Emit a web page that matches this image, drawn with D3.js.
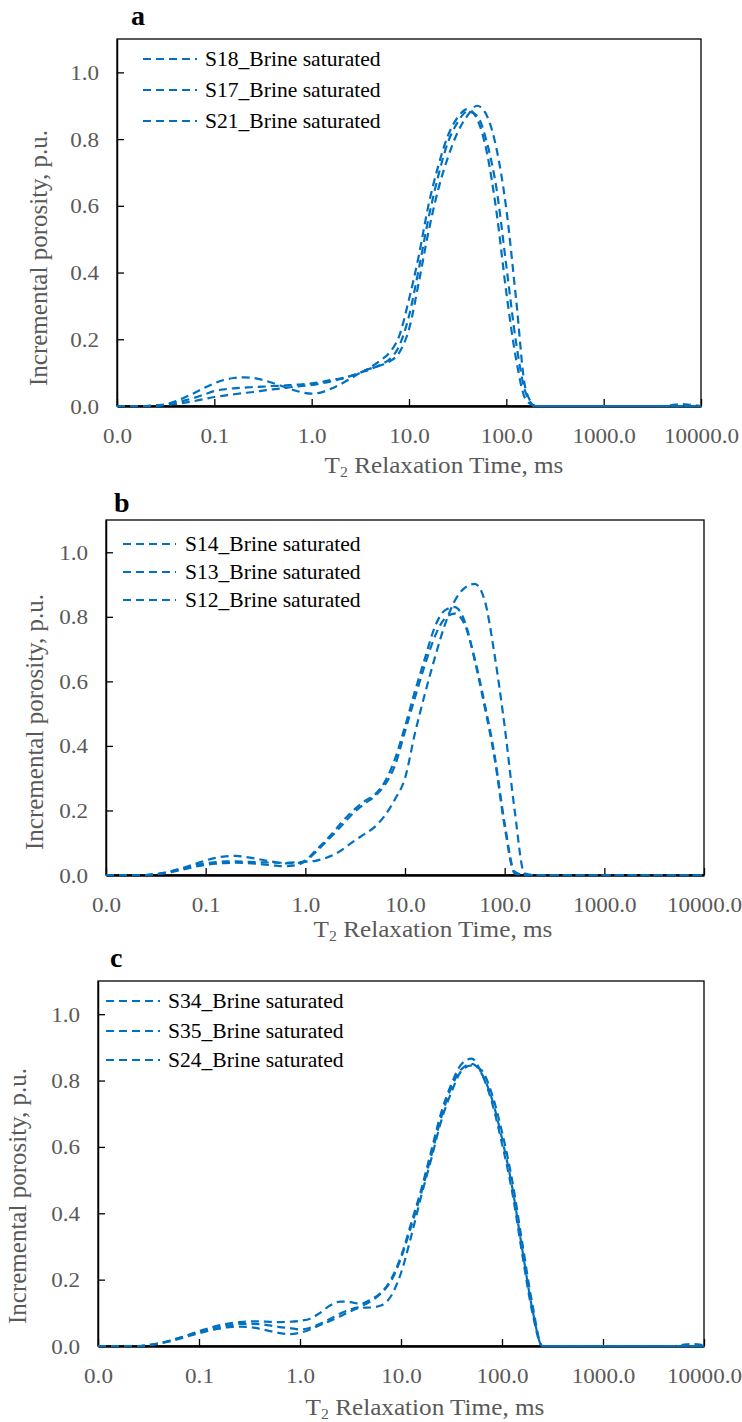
<!DOCTYPE html>
<html>
<head>
<meta charset="utf-8">
<script src="https://cdn.jsdelivr.net/npm/d3@7"></script>
<style>
  body { margin: 0; background: #fff; }
  svg { display: block; }
</style>
</head>
<body>
<svg id="chart" width="742" height="1422"></svg>
<script>
// T2 relaxation time grid (ms), 10 points per decade
var t2 = [
  0.01, 0.0126, 0.0158, 0.02, 0.0251, 0.0316, 0.0398, 0.0501, 0.0631, 0.0794,
  0.1, 0.126, 0.158, 0.2, 0.251, 0.316, 0.398, 0.501, 0.631, 0.794,
  1, 1.26, 1.58, 2, 2.51, 3.16, 3.98, 5.01, 6.31, 7.94,
  10, 12.6, 15.8, 20, 25.1, 31.6, 39.8, 50.1, 63.1, 79.4,
  100, 126, 158, 200, 251, 316, 398, 501, 631, 794,
  1000, 1259, 1585, 1995, 2512, 3162, 3981, 5012, 6310, 7943,
  10000
];

var xTicks = [0.01, 0.1, 1, 10, 100, 1000, 10000];
var yTicks = [0, 0.2, 0.4, 0.6, 0.8, 1.0];

// panel a
var namesA = ["S18_Brine saturated", "S17_Brine saturated", "S21_Brine saturated"];
var s18 = [
  0, 0, 0, 0, 0.001, 0.003, 0.006, 0.01, 0.015, 0.021,
  0.027, 0.031, 0.035, 0.039, 0.042, 0.046, 0.05, 0.053, 0.057, 0.06,
  0.063, 0.068, 0.074, 0.081, 0.09, 0.1, 0.115, 0.135, 0.16, 0.21,
  0.32, 0.45, 0.6, 0.72, 0.81, 0.865, 0.89, 0.86, 0.76, 0.58,
  0.34, 0.14, 0.02, 0, 0, 0, 0, 0, 0, 0,
  0, 0, 0, 0, 0, 0, 0, 0.003, 0.006, 0.003,
  0
];
var s17 = [
  0, 0, 0, 0, 0.001, 0.004, 0.01, 0.017, 0.025, 0.035,
  0.045, 0.05, 0.053, 0.055, 0.057, 0.058, 0.06, 0.061, 0.063, 0.065,
  0.068, 0.072, 0.078, 0.083, 0.09, 0.1, 0.11, 0.123, 0.14, 0.18,
  0.27, 0.41, 0.56, 0.69, 0.79, 0.85, 0.883, 0.87, 0.79, 0.65,
  0.42, 0.19, 0.04, 0, 0, 0, 0, 0, 0, 0,
  0, 0, 0, 0, 0, 0, 0, 0, 0, 0,
  0
];
var s21 = [
  0, 0, 0, 0, 0.001, 0.005, 0.014, 0.026, 0.04, 0.055,
  0.068, 0.078, 0.084, 0.086, 0.084, 0.078, 0.069, 0.059, 0.049, 0.041,
  0.037, 0.041, 0.052, 0.066, 0.082, 0.1, 0.112, 0.121, 0.133, 0.16,
  0.23, 0.37, 0.52, 0.65, 0.745, 0.82, 0.87, 0.9, 0.87, 0.77,
  0.59, 0.32, 0.05, 0, 0, 0, 0, 0, 0, 0,
  0, 0, 0, 0, 0, 0, 0, 0, 0, 0,
  0
];

// panel b
var namesB = ["S14_Brine saturated", "S13_Brine saturated", "S12_Brine saturated"];
var s14 = [
  0, 0, 0, 0, 0, 0.003, 0.008, 0.016, 0.025, 0.035,
  0.045, 0.053, 0.058, 0.059, 0.056, 0.051, 0.045, 0.04, 0.036, 0.036,
  0.045, 0.075, 0.105, 0.14, 0.175, 0.205, 0.23, 0.25, 0.29, 0.36,
  0.46, 0.57, 0.67, 0.77, 0.82, 0.83, 0.785, 0.665, 0.52, 0.36,
  0.15, 0.005, 0, 0, 0, 0, 0, 0, 0, 0,
  0, 0, 0, 0, 0, 0, 0, 0, 0, 0,
  0
];
var s13 = [
  0, 0, 0, 0, 0, 0.002, 0.006, 0.012, 0.019, 0.026,
  0.031, 0.035, 0.037, 0.038, 0.037, 0.035, 0.032, 0.029, 0.027, 0.03,
  0.042, 0.07, 0.1, 0.132, 0.165, 0.197, 0.222, 0.245, 0.28, 0.34,
  0.445, 0.55, 0.65, 0.74, 0.795, 0.81, 0.775, 0.67, 0.53, 0.37,
  0.16, 0.01, 0, 0, 0, 0, 0, 0, 0, 0,
  0, 0, 0, 0, 0, 0, 0, 0, 0, 0,
  0
];
var s12 = [
  0, 0, 0, 0, 0, 0.002, 0.007, 0.014, 0.022, 0.03,
  0.036, 0.04, 0.042, 0.042, 0.041, 0.04, 0.039, 0.038, 0.038, 0.039,
  0.041, 0.044, 0.052, 0.065, 0.085, 0.108, 0.128, 0.15, 0.185, 0.235,
  0.3, 0.44, 0.56, 0.675, 0.775, 0.85, 0.89, 0.902, 0.85, 0.68,
  0.46, 0.2, 0.005, 0, 0, 0, 0, 0, 0, 0,
  0, 0, 0, 0, 0, 0, 0, 0, 0, 0,
  0
];

// panel c
var namesC = ["S34_Brine saturated", "S35_Brine saturated", "S24_Brine saturated"];
var s34 = [
  0, 0, 0, 0, 0, 0.003, 0.008, 0.015, 0.024, 0.034,
  0.045, 0.054, 0.062, 0.068, 0.072, 0.074, 0.074, 0.073, 0.072, 0.073,
  0.076, 0.082, 0.1, 0.123, 0.134, 0.132, 0.127, 0.14, 0.16, 0.2,
  0.27, 0.37, 0.47, 0.59, 0.705, 0.79, 0.85, 0.866, 0.82, 0.735,
  0.61, 0.465, 0.28, 0.1, 0, 0, 0, 0, 0, 0,
  0, 0, 0, 0, 0, 0, 0, 0, 0.004, 0.006,
  0.002
];
var s35 = [
  0, 0, 0, 0, 0, 0.003, 0.008, 0.015, 0.024, 0.033,
  0.042, 0.05, 0.057, 0.062, 0.066, 0.067, 0.066, 0.062, 0.057, 0.054,
  0.05, 0.055, 0.067, 0.082, 0.098, 0.11, 0.12, 0.135, 0.158, 0.195,
  0.265, 0.36, 0.46, 0.575, 0.69, 0.78, 0.835, 0.85, 0.82, 0.745,
  0.625, 0.48, 0.295, 0.11, 0, 0, 0, 0, 0, 0,
  0, 0, 0, 0, 0, 0, 0, 0, 0, 0,
  0
];
var s24 = [
  0, 0, 0, 0, 0, 0.002, 0.007, 0.013, 0.021, 0.03,
  0.038, 0.046, 0.052, 0.057, 0.058, 0.057, 0.052, 0.045, 0.039, 0.036,
  0.04, 0.05, 0.063, 0.076, 0.09, 0.105, 0.115, 0.116, 0.122, 0.15,
  0.22, 0.33, 0.45, 0.565, 0.68, 0.765, 0.83, 0.846, 0.83, 0.76,
  0.645, 0.5, 0.315, 0.125, 0, 0, 0, 0, 0, 0,
  0, 0, 0, 0, 0, 0, 0, 0, 0, 0,
  0
];

var panels = [
  {letter: "a", names: namesA, series: [s18, s17, s21],
    box: {left: 117, right: 701, top: 39, bottom: 406}, letterAt: [131, 25],
    legend: {x1: 143, x2: 197, tx: 205, rows: [59, 90, 121]},
    yTitleAt: [47, 258], xTitleAt: [444, 473]},
  {letter: "b", names: namesB, series: [s14, s13, s12],
    box: {left: 106, right: 704, top: 520, bottom: 875}, letterAt: [114, 512],
    legend: {x1: 123, x2: 176, tx: 185, rows: [544, 572, 600]},
    yTitleAt: [43, 722], xTitleAt: [433, 937]},
  {letter: "c", names: namesC, series: [s34, s35, s24],
    box: {left: 98, right: 704, top: 981, bottom: 1346}, letterAt: [110, 967],
    legend: {x1: 106, x2: 160, tx: 168, rows: [1001, 1031, 1060]},
    yTitleAt: [26, 1196], xTitleAt: [425, 1415]}
];

var blue = "#0070C0",
  grey = "#595959",
  serif = "'Liberation Serif', 'Times New Roman', serif",
  dash = "8,5",
  stretch = 1.05
;

var svg = d3.select("#chart");

panels.forEach(function(p) {
  let b = p.box,
    x = d3.scaleLog().domain([0.01, 10000]).range([b.left, b.right]),
    y = d3.scaleLinear().domain([0, 1.1]).range([b.bottom, b.top]),
    g = svg.append("g"),
    line = d3.line()
      .curve(d3.curveMonotoneX)
      .x(function(d, i) { return x(t2[i]); })
      .y(function(d) { return y(d); })
  ;

  g.append("rect")
    .attr("x", b.left)
    .attr("y", b.top)
    .attr("width", b.right - b.left)
    .attr("height", b.bottom - b.top)
    .attr("fill", "none")
    .attr("stroke", "#000")
    .attr("stroke-width", 1.3);

  let yAxis = g.append("g")
    .attr("transform", "translate(" + b.left + ",0)")
    .call(d3.axisLeft(y).tickValues(yTicks).tickSizeInner(-7).tickSizeOuter(0)
      .tickPadding(17).tickFormat(d3.format(".1f")));
  yAxis.select(".domain").attr("stroke", "#000").attr("stroke-width", 1.5);
  yAxis.selectAll(".tick line").attr("stroke", "#000").attr("stroke-width", 1.3);

  let xAxis = g.append("g")
    .attr("transform", "translate(0," + b.bottom + ")")
    .call(d3.axisBottom(x).tickValues(xTicks).tickSizeInner(-7).tickSizeOuter(0)
      .tickPadding(21).tickFormat(d3.format(".1f")));
  xAxis.select(".domain").attr("stroke", "#000").attr("stroke-width", 2.6);
  xAxis.selectAll(".tick line").attr("stroke", "#000").attr("stroke-width", 1.3);

  g.selectAll(".tick text")
    .attr("fill", grey)
    .attr("font-family", serif)
    .attr("font-size", 22)
    .attr("transform", "scale(" + stretch + ",1)");

  // curves
  p.series.forEach(function(s) {
    g.append("path")
      .datum(s)
      .attr("fill", "none")
      .attr("stroke", blue)
      .attr("stroke-width", 2.2)
      .attr("stroke-dasharray", dash)
      .attr("d", line);
  });

  // legend
  p.names.forEach(function(name, i) {
    let ry = p.legend.rows[i];
    g.append("line")
      .attr("x1", p.legend.x1).attr("x2", p.legend.x2)
      .attr("y1", ry).attr("y2", ry)
      .attr("stroke", blue)
      .attr("stroke-width", 2.2)
      .attr("stroke-dasharray", dash);
    g.append("text")
      .attr("transform", "translate(" + p.legend.tx + "," + ry + ") scale(1.08,1)")
      .attr("dy", "0.35em")
      .attr("font-family", serif)
      .attr("font-size", 20)
      .attr("fill", "#000")
      .text(name);
  });

  // panel letter
  g.append("text")
    .attr("x", p.letterAt[0])
    .attr("y", p.letterAt[1])
    .attr("font-family", serif)
    .attr("font-weight", "bold")
    .attr("font-size", 28)
    .attr("fill", "#000")
    .text(p.letter);

  // y title
  g.append("text")
    .attr("transform", "translate(" + p.yTitleAt[0] + "," + p.yTitleAt[1] + ") rotate(-90)")
    .attr("text-anchor", "middle")
    .attr("font-family", serif)
    .attr("font-size", 25)
    .attr("fill", grey)
    .text("Incremental porosity, p.u.");

  // x title with subscript
  let xt = g.append("text")
    .attr("transform", "translate(" + p.xTitleAt[0] + "," + p.xTitleAt[1] + ") scale(" + stretch + ",1)")
    .attr("text-anchor", "middle")
    .attr("font-family", serif)
    .attr("font-size", 24)
    .attr("fill", grey);
  xt.append("tspan").text("T");
  xt.append("tspan").attr("font-size", 15).attr("dy", 4).text("2");
  xt.append("tspan").attr("dy", -4).text(" Relaxation Time, ms");
});
</script>
</body>
</html>
